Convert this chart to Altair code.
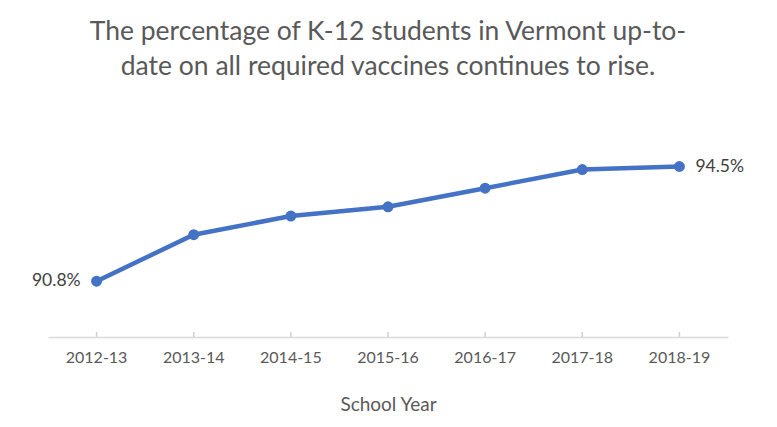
import altair as alt
import pandas as pd

years = ["2012-13", "2013-14", "2014-15", "2015-16", "2016-17", "2017-18", "2018-19"]
pct = [90.8, 92.3, 92.9, 93.2, 93.8, 94.4, 94.5]
shown = ["90.8%", "", "", "", "", "", "94.5%"]

df = pd.DataFrame({"year": years, "pct": pct, "label": shown})

FONT = "Lato"
GREY = "#595959"
BLUE = "#4472C4"

x_enc = alt.X("year:N", sort=years, title="School Year",
              scale=alt.Scale(paddingInner=0, paddingOuter=0),
              axis=alt.Axis(labelAngle=0, ticks=False, domainColor="#d9d9d9",
                            domainWidth=1.5, labelColor=GREY, labelFont=FONT,
                            labelFontSize=16, labelPadding=12,
                            titleColor=GREY, titleFont=FONT, titleFontSize=19,
                            titleFontWeight="normal", titlePadding=30))
y_enc = alt.Y("pct:Q", scale=alt.Scale(domain=[89, 95], zero=False), axis=None)

base = alt.Chart(df)

line = base.mark_line(color=BLUE, strokeWidth=4.5).encode(x=x_enc, y=y_enc)
dots = base.mark_circle(color=BLUE, size=120, opacity=1).encode(x=x_enc, y=y_enc)

# tick marks pointing up from the axis line
ticks = base.mark_rule(color="#d0d0d0", strokeWidth=1.5).encode(
    x=x_enc, y=alt.value(181), y2=alt.value(186))

first = base.transform_filter(alt.datum.year == years[0]).mark_text(
    align="right", dx=-16, font=FONT, fontSize=17.5, color="#404040"
).encode(x=x_enc, y=y_enc, text="label:N")
last = base.transform_filter(alt.datum.year == years[-1]).mark_text(
    align="left", dx=16, font=FONT, fontSize=17.5, color="#404040"
).encode(x=x_enc, y=y_enc, text="label:N")

chart = alt.layer(ticks, line, dots, first, last).properties(
    width=680,
    height=186,
    title=alt.TitleParams(
        ["The percentage of K-12 students in Vermont up-to-",
         "date on all required vaccines continues to rise."],
        font=FONT, fontSize=26.5, fontWeight="normal", color=GREY,
        lineHeight=35, offset=71, anchor="middle"),
    autosize=alt.AutoSizeParams(type="none"),
    padding={"left": 40, "top": 143, "right": 40, "bottom": 80},
).configure_view(stroke=None)

chart.save("out.html", embed_options={"renderer": "svg", "actions": False})
